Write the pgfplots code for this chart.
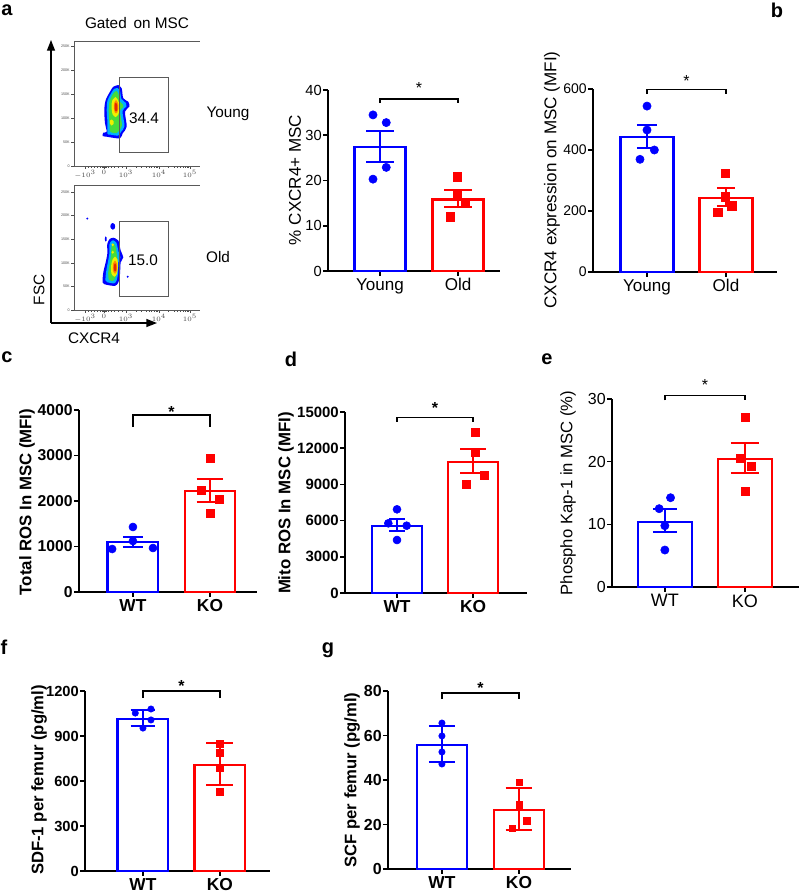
\documentclass[border=0pt]{standalone}
\usepackage{fontspec}
\setmainfont{Liberation Sans}
\usepackage{pgfplots}
\pgfplotsset{compat=1.18}
\usetikzlibrary{arrows.meta}
\definecolor{gpblue}{RGB}{0,0,255}
\definecolor{gpred}{RGB}{255,0,0}
\definecolor{fcyan}{RGB}{0,175,255}
\definecolor{fgreen}{RGB}{70,220,60}
\definecolor{fyellow}{RGB}{240,240,0}
\definecolor{forange}{RGB}{255,140,0}
\definecolor{fred}{RGB}{225,40,0}
\newcommand{\fs}[1]{\fontsize{#1}{#1}\selectfont}
\pgfplotsset{
 gp/.style={scale only axis, clip=false, anchor=north west,
   axis x line*=bottom, axis y line*=left,
   axis line style={-, line width=1.3pt, black},
   ymin=0, xtick={0,1},
   tick align=outside, major tick length=3.5pt,
   every tick/.append style={black, line width=1.2pt},
   yticklabel style={font=\fs{10.5}, inner xsep=1pt},
   xticklabel style={font=\fs{12.8}, inner ysep=2pt},
   scaled y ticks=false,
   /pgf/number format/assume math mode=true,
   /pgf/number format/1000 sep={},
 },
 gpb/.style={gp, yticklabel style={font=\bfseries\fs{11.5}}, xticklabel style={font=\bfseries\fs{13}}},
 bb/.style={ybar, bar width=#1, fill=white, line width=1.6pt},
 ebl/.style={#1, line width=1.5pt, mark=none, forget plot, unbounded coords=jump},
 br/.style={black, line width=1.1pt, mark=none, forget plot},
 flow/.style={scale only axis, clip=false, anchor=north west,
   width=94.5pt, height=93.75pt, xmin=74, xmax=200,
   axis x line*=bottom, axis y line*=left,
   axis line style={-, line width=0.6pt, black!65},
   xtick={85,104,126,159,190}, xticklabels={$-10^3$,$0$,$10^3$,$10^4$,$10^5$},
   minor xtick={88,91,94,97,100,102,103,105,106,108,111,114,118,122,135.9,141.7,145.9,149.1,151.7,153.9,155.8,157.5,168.3,173.8,177.7,180.7,183.1,185.2,187,188.6},
   tick align=outside, major tick length=2pt, minor tick length=1.2pt,
   every tick/.append style={black!70, line width=0.4pt},
   ticklabel style={font=\fs{2.8}, text=black!70, inner sep=1pt},
 },
}
\begin{document}
\begin{tikzpicture}
\useasboundingbox (0,0) rectangle (600pt,-670.5pt);

% ---------------- flow cytometry (a, left) ----------------
\begin{axis}[flow, at={(55.5pt,-30.75pt)}, ymin=-166, ymax=-41,
  ytick={-166,-142,-118,-94,-70,-46}, yticklabels={0,50K,100K,150K,200K,250K}]
\addplot[fill=gpblue, draw=none, smooth] coordinates {(118.3,-85) (121.7,-88.3) (123.3,-98.3) (128.3,-101.7) (129.3,-106.7) (125,-111.7) (126.7,-126.7) (122.7,-133.3) (120,-138.3) (110,-137.3) (106.7,-136.7) (102.7,-136) (103.3,-132.7) (106.7,-131.7) (105,-123.3) (104.3,-110) (105.7,-100) (110,-91.7) (113.3,-86.7) (118.3,-85)};
\addplot[fill=fcyan, draw=none, smooth] coordinates {(117.5,-88) (120,-91) (121.5,-99) (126,-103) (126.5,-106.5) (122.5,-111) (124.5,-126) (121,-132) (118,-135.5) (110,-134.5) (107.5,-133.5) (107.5,-123) (106.7,-110) (107.5,-100.5) (111,-93.5) (114,-89) (117.5,-88)};
\addplot[fill=fgreen, draw=none, smooth] coordinates {(116.5,-91) (118.5,-94) (119.5,-101) (123,-104.5) (123.5,-107) (120,-111) (122,-125) (119.5,-130) (116.5,-133) (110.5,-132) (109.5,-124) (108.7,-111) (109.5,-101.5) (112,-95.5) (114.5,-92) (116.5,-91)};
\addplot[fill=fyellow, draw=none, smooth] coordinates {(115.5,-97) (118,-100) (119.5,-106) (118.5,-114) (115.5,-117) (112.5,-114) (111.5,-106) (112.5,-100) (115.5,-97)};
\addplot[fill=fyellow, draw=none, smooth] coordinates {(111.5,-119.5) (113.5,-121) (113.5,-124) (111.5,-125.5) (109.8,-123.5) (110,-120.5) (111.5,-119.5)};
\addplot[fill=forange, draw=none, smooth] coordinates {(116,-100) (118,-103) (118.5,-108) (117,-113) (115,-113) (113.8,-108) (114.2,-103) (116,-100)};
\addplot[fill=fred, draw=none, smooth] coordinates {(115.8,-102.5) (117.3,-105) (117.3,-110) (115.8,-111.5) (114.6,-108.5) (114.8,-104) (115.8,-102.5)};
\addplot[black!65, line width=0.7pt, mark=none] coordinates {(119,-77) (168,-77) (168,-152) (119,-152) (119,-77)};
\end{axis}

\begin{axis}[flow, at={(55.5pt,-138.75pt)}, ymin=-309, ymax=-185,
  ytick={-309,-285.6,-262.2,-238.8,-215.4,-192}, yticklabels={0,50K,100K,150K,200K,250K}]
\addplot[fill=gpblue, draw=none, smooth] coordinates {(113.3,-237.3) (118.3,-240) (120.7,-250) (123.3,-256.7) (120.7,-261.7) (120,-273.3) (118.3,-281.7) (115,-285) (106.7,-284) (102.7,-281.7) (103.3,-271.7) (105.3,-263.3) (107.3,-253.3) (107.3,-243.3) (110,-238.3) (113.3,-237.3)};
\addplot[fill=fcyan, draw=none, smooth] coordinates {(113.5,-240) (116.5,-242.5) (118.5,-251) (120.5,-257) (118.5,-261.5) (118,-273) (116.5,-280) (114,-282.5) (107.5,-281.5) (105.5,-279.5) (106,-272) (107.5,-263.5) (109.3,-253.5) (109.5,-244) (111.5,-240.5) (113.5,-240)};
\addplot[fill=fgreen, draw=none, smooth] coordinates {(113.5,-243) (115.5,-246) (116.5,-252) (117.5,-258) (116.5,-264) (116.5,-272) (115,-278) (113,-280) (109,-279) (108.2,-272) (109.5,-264) (111,-254) (111.5,-246) (113.5,-243)};
\addplot[fill=fyellow, draw=none, smooth] coordinates {(115,-256) (117.5,-259) (118,-266) (117,-273) (114.5,-276) (111.5,-273) (111,-266) (112.5,-259) (115,-256)};
\addplot[fill=fyellow, draw=none, smooth] coordinates {(112.7,-242.8) (114,-244.3) (112.7,-245.8) (111.4,-244.3) (112.7,-242.8)};
\addplot[fill=fyellow, draw=none, smooth] coordinates {(112.7,-250.2) (114,-251.7) (112.7,-253.2) (111.4,-251.7) (112.7,-250.2)};
\addplot[fill=forange, draw=none, smooth] coordinates {(115,-260) (117,-263) (117,-270) (115,-273) (113,-270) (113,-263) (115,-260)};
\addplot[fill=fred, draw=none, smooth] coordinates {(115,-262.5) (116.3,-265) (116.2,-269.5) (115,-271) (113.8,-269) (113.9,-265) (115,-262.5)};
\addplot[fill=gpblue, draw=none, smooth] coordinates {(112.7,-222.7) (114.7,-224) (115.2,-226) (114.5,-228.5) (112.7,-229.3) (110.9,-228) (110.3,-226) (111,-223.8) (112.7,-222.7)};
\addplot[fill=gpblue, draw=none, smooth] coordinates {(105.5,-236) (106.7,-237) (106.5,-240.5) (105.3,-241) (104.8,-238.5) (105.5,-236)};
\addplot[only marks, mark=*, gpblue, mark size=0.5pt] coordinates {(87.3,-218.3) (127.7,-276)};
\addplot[black!65, line width=0.7pt, mark=none] coordinates {(119,-221) (168,-221) (168,-296) (119,-296) (119,-221)};
\end{axis}

% ---------------- panel a bars ----------------
\begin{axis}[gp, at={(246pt,-67.5pt)}, width=129pt, height=135.75pt, xmin=-0.667, xmax=1.538,
  ymax=40, ytick={0,10,20,30,40}, xticklabels={Young,Old}, yticklabel style={font=\fs{11}}]
\addplot[bb=0.654, draw=gpblue] coordinates {(0,27.5)};
\addplot[bb=0.654, draw=gpred] coordinates {(1,15.8)};
\addplot[ebl=gpblue] coordinates {(0,24.2) (0,31.0) (nan,nan) (-0.175,31.0) (0.175,31.0) (nan,nan) (-0.175,24.2) (0.175,24.2)};
\addplot[ebl=gpred] coordinates {(1,14.2) (1,17.9) (nan,nan) (0.825,17.9) (1.175,17.9) (nan,nan) (0.825,14.2) (1.175,14.2)};
\addplot[only marks, mark=*, gpblue, mark size=3.1pt] coordinates {(-0.09,34.5) (0.08,32.8) (0.08,22.9) (-0.09,20.3)};
\addplot[only marks, mark=square*, gpred, mark size=3.1pt] coordinates {(0.99,20.8) (0.99,16.6) (1.09,15.1) (0.9,12.0)};
\addplot[br] coordinates {(0,37.1) (0,38) (1,38) (1,37.1)};
\node[font=\fs{12}, yshift=-2.5pt] at (axis cs:0.5,41.1) {*};
\end{axis}

% ---------------- panel b ----------------
\begin{axis}[gp, at={(444.75pt,-66.75pt)}, width=138pt, height=137.25pt, xmin=-0.684, xmax=1.646,
  ymax=600, ytick={0,200,400,600}, xticklabels={Young,Old}]
\addplot[bb=0.67, draw=gpblue] coordinates {(0,441.5)};
\addplot[bb=0.67, draw=gpred] coordinates {(1,243.7)};
\addplot[ebl=gpblue] coordinates {(0,405.5) (0,482) (nan,nan) (-0.13,482) (0.13,482) (nan,nan) (-0.13,405.5) (0.13,405.5)};
\addplot[ebl=gpred] coordinates {(1,217.5) (1,274) (nan,nan) (0.884,274) (1.116,274) (nan,nan) (0.884,217.5) (1.116,217.5)};
\addplot[only marks, mark=*, gpblue, mark size=3.1pt] coordinates {(0,544) (0,465.6) (0.093,400) (-0.089,369.5)};
\addplot[only marks, mark=square*, gpred, mark size=3.1pt] coordinates {(0.987,323.6) (0.987,247) (1.072,217.5) (0.895,195.6)};
\addplot[br] coordinates {(0,583) (0,598) (1,598) (1,583)};
\node[font=\fs{12}, yshift=-2.5pt] at (axis cs:0.5,636) {*};
\end{axis}

% ---------------- panel c ----------------
\begin{axis}[gpb, at={(59.25pt,-307.5pt)}, width=133.5pt, height=136.5pt, xmin=-0.70, xmax=1.61,
  ymax=4000, ytick={0,1000,2000,3000,4000}, xticklabels={WT,KO}, yticklabel style={font=\bfseries\fs{11.8}}]
\addplot[bb=0.66, draw=gpblue] coordinates {(0,1105)};
\addplot[bb=0.66, draw=gpred] coordinates {(1,2227)};
\addplot[ebl=gpblue] coordinates {(0,996) (0,1216) (nan,nan) (-0.13,1216) (0.13,1216) (nan,nan) (-0.13,996) (0.13,996)};
\addplot[ebl=gpred] coordinates {(1,1984) (1,2484) (nan,nan) (0.825,2484) (1.175,2484) (nan,nan) (0.825,1984) (1.175,1984)};
\addplot[only marks, mark=*, gpblue, mark size=3pt] coordinates {(0,1429) (0,1120) (-0.27,945) (0.26,967)};
\addplot[only marks, mark=square*, gpred, mark size=3pt] coordinates {(1,2945) (0.883,2241) (1.117,2044) (1,1736)};
\addplot[br] coordinates {(0,3626) (0,3890) (1,3890) (1,3626)};
\node[font=\bfseries\fs{12}, yshift=-2.5pt] at (axis cs:0.5,4022) {*};
\end{axis}

% ---------------- panel d ----------------
\begin{axis}[gpb, at={(258.75pt,-309pt)}, width=136.5pt, height=135.75pt, xmin=-0.684, xmax=1.71,
  ymax=15000, ytick={0,3000,6000,9000,12000,15000}, xticklabels={WT,KO}, yticklabel style={font=\bfseries\fs{11.2}}]
\addplot[bb=0.66, draw=gpblue] coordinates {(0,5577)};
\addplot[bb=0.66, draw=gpred] coordinates {(1,10831)};
\addplot[ebl=gpblue] coordinates {(0,5138) (0,6132) (nan,nan) (-0.105,6132) (0.105,6132) (nan,nan) (-0.105,5138) (0.105,5138)};
\addplot[ebl=gpred] coordinates {(1,9920) (1,11934) (nan,nan) (0.835,11934) (1.165,11934) (nan,nan) (0.835,9920) (1.165,9920)};
\addplot[only marks, mark=*, gpblue, mark size=3pt] coordinates {(0,6936) (-0.114,5776) (0.127,5577) (0,4392)};
\addplot[only marks, mark=square*, gpred, mark size=3pt] coordinates {(1.03,13285) (1.03,11660) (1.15,9721) (0.91,9033)};
\addplot[br] coordinates {(0,14199) (0,14558) (1,14558) (1,14199)};
\node[font=\bfseries\fs{12}, yshift=-2.5pt] at (axis cs:0.5,15580) {*};
\end{axis}

% ---------------- panel e ----------------
\begin{axis}[gp, at={(459pt,-299.25pt)}, width=140.25pt, height=141pt, xmin=-0.66, xmax=1.675,
  ymax=30, ytick={0,10,20,30}, xticklabels={WT,KO}, yticklabel style={font=\fs{12}}, xticklabel style={font=\fs{13.5}}]
\addplot[bb=0.675, draw=gpblue] coordinates {(0,10.42)};
\addplot[bb=0.675, draw=gpred] coordinates {(1,20.38)};
\addplot[ebl=gpblue] coordinates {(0,8.83) (0,12.45) (nan,nan) (-0.15,12.45) (0.15,12.45) (nan,nan) (-0.15,8.83) (0.15,8.83)};
\addplot[ebl=gpred] coordinates {(1,18.14) (1,22.93) (nan,nan) (0.825,22.93) (1.175,22.93) (nan,nan) (0.825,18.14) (1.175,18.14)};
\addplot[only marks, mark=*, gpblue, mark size=3.1pt] coordinates {(0.071,14.25) (-0.071,12.5) (0,9.78) (0,5.9)};
\addplot[only marks, mark=square*, gpred, mark size=3.1pt] coordinates {(1.008,27.08) (0.937,20.54) (1.075,19.31) (1,15.32)};
\addplot[br] coordinates {(0,29.8) (0,30.6) (1,30.6) (1,29.8)};
\node[font=\fs{12}, yshift=-2.5pt] at (axis cs:0.5,32.8) {*};
\end{axis}

% ---------------- panel f ----------------
\begin{axis}[gpb, at={(63.75pt,-518.25pt)}, width=138.75pt, height=135pt, xmin=-0.753, xmax=1.65,
  ymax=1200, ytick={0,300,600,900,1200}, xticklabels={WT,KO}, yticklabel style={font=\bfseries\fs{11}}]
\addplot[bb=0.66, draw=gpblue] coordinates {(0,1015)};
\addplot[bb=0.66, draw=gpred] coordinates {(1,707)};
\addplot[ebl=gpblue] coordinates {(0,967) (0,1073) (nan,nan) (-0.16,1073) (0.16,1073) (nan,nan) (-0.16,967) (0.16,967)};
\addplot[ebl=gpred] coordinates {(1,573) (1,853) (nan,nan) (0.825,853) (1.175,853) (nan,nan) (0.825,573) (1.175,573)};
\addplot[only marks, mark=*, gpblue, mark size=2.4pt] coordinates {(-0.1,1053) (0.104,1080) (0.104,1007) (0,953)};
\addplot[only marks, mark=square*, gpred, mark size=2.4pt] coordinates {(1,847) (1,787) (1,687) (1,527)};
\addplot[br] coordinates {(0,1155) (0,1200) (1,1200) (1,1155)};
\node[font=\bfseries\fs{12}, yshift=-2.5pt] at (axis cs:0.5,1253) {*};
\end{axis}

% ---------------- panel g ----------------
\begin{axis}[gpb, at={(291pt,-518.25pt)}, width=137.25pt, height=133.5pt, xmin=-0.70, xmax=1.675,
  ymax=80, ytick={0,20,40,60,80}, xticklabels={WT,KO}, yticklabel style={font=\bfseries\fs{12}}]
\addplot[bb=0.65, draw=gpblue] coordinates {(0,55.7)};
\addplot[bb=0.65, draw=gpred] coordinates {(1,26.5)};
\addplot[ebl=gpblue] coordinates {(0,48) (0,64.3) (nan,nan) (-0.17,64.3) (0.17,64.3) (nan,nan) (-0.17,48) (0.17,48)};
\addplot[ebl=gpred] coordinates {(1,17.5) (1,36.4) (nan,nan) (0.825,36.4) (1.175,36.4) (nan,nan) (0.825,17.5) (1.175,17.5)};
\addplot[only marks, mark=*, gpblue, mark size=2.4pt] coordinates {(0,65.6) (0,59.8) (0,52.6) (0,47.2)};
\addplot[only marks, mark=square*, gpred, mark size=2.4pt] coordinates {(1,39) (1,28.8) (1.1,21.6) (0.91,18.4)};
\addplot[br] coordinates {(0,76.4) (0,79.2) (1,79.2) (1,76.4)};
\node[font=\bfseries\fs{12}, yshift=-2.5pt] at (axis cs:0.5,83) {*};
\end{axis}

% ---------------- annotations in pixel units ----------------
\begin{scope}[x=0.75pt,y=-0.75pt]
\draw[line width=0.6pt, black!65] (74,41) -- (200,41);
\draw[line width=0.6pt, black!65] (74,185) -- (200,185);
\draw[line width=1pt, -{Triangle[length=8pt,width=6pt]}] (51,323) -- (51,40);
\draw[line width=1pt, -{Triangle[length=8pt,width=6pt]}] (51,323) -- (157,323);
\node[font=\fs{11.5}] at (137,23) {Gated\, on MSC};
\node[font=\fs{11.5}] at (144,118) {34.4};
\node[font=\fs{11.5}] at (143,260) {15.0};
\node[font=\fs{11.5}] at (228,114) {Young};
\node[font=\fs{11.5}] at (218,257) {Old};
\node[font=\fs{11.5}, rotate=90] at (39,290) {FSC};
\node[font=\fs{11.5}] at (94,338) {CXCR4};
\node[font=\fs{12.8}, rotate=90] at (295,180) {\% CXCR4+ MSC};
\node[font=\fs{12.8}, rotate=90] at (552,180) {CXCR4 expression on MSC (MFI)};
\node[font=\bfseries\fs{12.6}, rotate=90] at (27,502) {Total ROS In MSC (MFI)};
\node[font=\bfseries\fs{12.6}, rotate=90] at (286,503) {Mito ROS In MSC (MFI)};
\node[font=\fs{12.5}, rotate=90] at (568,493) {Phospho Kap-1 in MSC (\%)};
\node[font=\bfseries\fs{12.5}, rotate=90] at (39,780) {SDF-1 per femur (pg/ml)};
\node[font=\bfseries\fs{12.5}, rotate=90] at (352,780) {SCF per femur (pg/ml)};
\node[font=\bfseries\fs{15}] at (7,10) {a};
\node[font=\bfseries\fs{15}] at (777,10) {b};
\node[font=\bfseries\fs{15}] at (7,357) {c};
\node[font=\bfseries\fs{15}] at (291,359) {d};
\node[font=\bfseries\fs{15}] at (547,359) {e};
\node[font=\bfseries\fs{15}] at (4,647) {f};
\node[font=\bfseries\fs{15}] at (328,650) {g};
\end{scope}
\end{tikzpicture}
\end{document}
